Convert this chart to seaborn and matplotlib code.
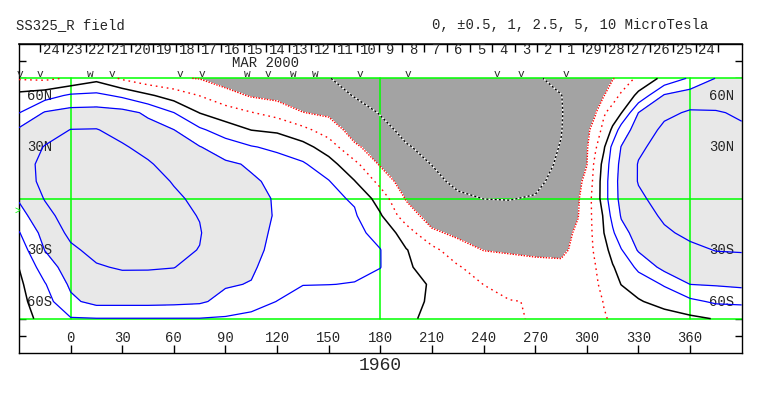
import numpy as np
import matplotlib
matplotlib.use("Agg")
import matplotlib.pyplot as plt
import seaborn as sns

# --- grid of the map (degrees) ---
lons = [-30, -15, 0, 15, 30, 45, 60, 75, 90, 105, 120, 135, 150, 165, 180,
        195, 210, 225, 240, 255, 270, 285, 295, 300, 305, 310, 315, 320,
        330, 345, 360, 375, 390]
lats = [70, 60, 50, 40, 30, 20, 10, 0, -10, -20, -30, -40, -50, -60, -70]

# --- radial field (microtesla), one list per latitude ---
b_n70 = [0.45, 0.4, 0.55, 0.85, 0.425, 0.15, 0.05, -0.02, -0.25, -0.33, -0.4, -0.45, -0.48, -0.9, -1.1,
         -1.2, -1.3, -1.3, -1.3, -1.3, -0.6, -0.385, -0.265, -0.205, -0.15, -0.09, -0.03, 0.13,
         0.63, 1.39, 2.83, 5.15, 6.5]
b_n60 = [1.43, 1.86, 2.9, 3.1, 2.23, 1.24, 0.77, 0.49, 0.2, -0.05, -0.15, -0.3, -0.3, -0.55, -0.8,
         -1.1, -1.25, -1.3, -1.3, -1.3, -0.75, -0.52, -0.3, -0.205, -0.11, -0.01, 0.265, 0.59,
         1.375, 5.5, 7.5, 8.0, 7.75]
b_n50 = [2.45, 5.4, 6.75, 6.9, 6.5, 4.625, 2.52, 0.985, 0.72, 0.52, 0.32, 0.01, -0.09, -0.3, -0.55,
         -0.9, -1.1, -1.2, -1.25, -1.25, -0.85, -0.55, -0.285, -0.16, -0.035, 0.44, 0.725, 0.975,
         5.02, 9.0, 10.5, 10.3, 9.5]
b_n40 = [5.75, 7.8, 10.1, 10.2, 8.45, 6.6, 5.06, 2.9, 1.77, 0.99, 0.91, 0.63, 0.26, -0.2, -0.38,
         -0.7, -0.9, -1.05, -1.15, -1.15, -0.85, -0.53, -0.245, -0.1, 0.19, 0.68, 1.255, 3.75,
         7.15, 11.0, 12.0, 12.0, 10.5]
b_n30 = [7.0, 10.25, 12.0, 12.0, 10.5, 8.6, 6.6, 5.2, 3.75, 2.67, 2.18, 1.52, 0.76, 0.075, -0.22,
         -0.47, -0.7, -0.85, -1.0, -1.0, -0.8, -0.485, -0.195, -0.05, 0.435, 0.95, 3.2, 5.15,
         9.2, 11.75, 12.75, 12.75, 12.0]
b_n20 = [7.5, 11.5, 13.0, 13.25, 12.0, 10.5, 8.15, 6.5, 5.75, 4.75, 3.6, 2.8, 1.58, 0.63, -0.06,
         -0.33, -0.52, -0.7, -0.85, -0.85, -0.85, -0.43, -0.155, -0.015, 0.64, 1.51, 3.8, 6.1,
         10.25, 12.25, 13.25, 13.25, 12.5]
b_n10 = [7.0, 11.5, 13.5, 14.0, 13.0, 11.75, 9.7, 7.75, 6.25, 5.5, 4.6, 3.4, 2.63, 1.06, 0.35,
         -0.3, -0.38, -0.7, -0.68, -0.68, -0.7, -0.35, -0.1, 0.125, 0.7, 1.765, 4.125, 6.3,
         10.25, 12.25, 13.5, 13.5, 12.75]
b_eq = [5.5, 10.25, 13.0, 14.0, 13.25, 12.25, 10.75, 9.0, 6.75, 5.75, 4.88, 3.6, 3.0, 2.35, 0.77,
        -0.04, -0.24, -0.42, -0.51, -0.53, -0.47, -0.21, -0.04, 0.26, 0.725, 1.765, 4.125, 6.05,
        9.2, 11.75, 13.0, 13.25, 12.5]
b_s10 = [4.1, 8.5, 12.25, 13.5, 13.0, 12.25, 11.0, 9.85, 7.0, 6.0, 4.88, 3.6, 3.1, 2.75, 1.16,
         0.225, -0.2, -0.25, -0.34, -0.36, -0.34, -0.125, -0.01, 0.315, 0.655, 1.195, 3.325, 5.35,
         7.8, 10.75, 12.25, 12.5, 12.0]
b_s20 = [2.41, 6.8, 11.0, 12.5, 12.5, 11.75, 11.0, 10.25, 7.0, 6.5, 4.6, 3.5, 3.1, 3.0, 2.125,
         0.75, 0.075, -0.09, -0.17, -0.2, -0.2, -0.125, 0.06, 0.325, 0.615, 1.01, 2.245, 4.325,
         6.55, 9.3, 11.0, 11.5, 11.25]
b_s30 = [1.71, 5.1, 9.2, 11.25, 11.5, 11.25, 10.75, 9.9, 6.75, 6.5, 4.25, 3.25, 3.0, 3.0, 2.55,
         1.07, 0.65, 0.18, -0.01, -0.04, -0.07, -0.075, 0.1, 0.345, 0.56, 0.855, 1.465, 2.41,
         5.5, 7.1, 9.0, 10.15, 10.4]
b_s40 = [1.02, 3.7, 7.5, 9.6, 10.4, 10.35, 10.1, 8.5, 6.25, 5.75, 3.75, 2.9, 2.8, 2.8, 2.55,
         1.22, 0.8, 0.55, 0.24, 0.14, 0.1, 0.075, 0.275, 0.385, 0.49, 0.735, 0.965, 1.48,
         3.05, 6.5, 7.5, 8.0, 7.75]
b_s50 = [0.9, 2.4, 5.8, 7.6, 8.2, 8.3, 7.95, 7.0, 5.5, 4.875, 3.25, 2.55, 2.52, 2.47, 2.05,
         1.22, 0.98, 0.7, 0.495, 0.33, 0.28, 0.175, 0.3, 0.375, 0.45, 0.6, 0.81, 1.03,
         1.675, 2.725, 5.02, 5.4, 6.0]
b_s60 = [0.85, 1.9, 4.5, 6.5, 6.5, 6.5, 6.25, 5.75, 4.2, 3.25, 2.48, 2.05, 1.98, 1.9, 1.45,
         1.18, 0.975, 0.75, 0.65, 0.52, 0.475, 0.25, 0.35, 0.4, 0.44, 0.51, 0.62, 0.735,
         0.955, 1.54, 2.17, 2.875, 3.0]
b_s70 = [0.8, 1.45, 2.4, 2.45, 2.45, 2.45, 2.45, 2.45, 2.35, 2.2, 2.05, 1.6, 1.45, 1.22, 1.03,
         1.12, 0.95, 0.72, 0.68, 0.58, 0.45, 0.3, 0.375, 0.41, 0.445, 0.485, 0.525, 0.565,
         0.65, 0.775, 0.9, 1.075, 1.3]

contour_levels = [-0.5, 0, 0.5, 1, 2.5, 5, 10]

# dates along the top (day of month), 30 days of the pass sequence
day_labels = ['24', '23', '22', '21', '20', '19', '18', '17', '16', '15', '14', '13',
              '12', '11', '10', '9', '8', '7', '6', '5', '4', '3', '2', '1',
              '29', '28', '27', '26', '25', '24']
day0_lon = -17.6
day_step = 13.13

# pass markers at the top
pass_lons = [-29.2, -17.6, 11.5, 24.2, 63.8, 76.6, 102.7, 114.9, 129.5, 142.3,
             168.4, 196.3, 248.0, 261.5, 287.6]
pass_marks = ['v', 'v', 'w', 'v', 'v', 'v', 'w', 'v', 'w', 'w', 'v', 'v', 'v', 'v', 'v']

grid_lons = [0, 180, 360]
grid_lats = [-70, 0, 70]
xtick_lons = list(range(0, 361, 30))
lat_labels = {60: '60N', 30: '30N', -30: '30S', -60: '60S'}

sns.set_theme(style="white")
plt.rcParams['font.family'] = ['Liberation Mono', 'DejaVu Sans Mono']

field = np.array([b_n70, b_n60, b_n50, b_n40, b_n30, b_n20, b_n10, b_eq,
                  b_s10, b_s20, b_s30, b_s40, b_s50, b_s60, b_s70])
# contour on a level-index scale so the uneven level spacing interpolates evenly
scale_ut = [-1.5, -0.5, 0, 0.5, 1, 2.5, 5, 10, 15]
idx = np.interp(field, scale_ut, np.arange(-1, 8))
lvl = np.interp(contour_levels, scale_ut, np.arange(-1, 8))
X, Y = np.meshgrid(lons, lats)

fig = plt.figure(figsize=(7.63, 3.96), dpi=100)
ax = fig.add_axes([19 / 763, 43 / 396, 722.7 / 763, 309 / 396])
ax.set_xlim(-30, 390)
ax.set_ylim(-90, 90)

ax.contourf(X, Y, idx, levels=[-2, lvl[1], lvl[5], 8],
            colors=['#a3a3a3', 'white', '#e8e8e8'], zorder=1)

green = '#00ff00'
for g in grid_lons:
    ax.plot([g, g], [grid_lats[0], grid_lats[-1]], color=green, lw=1.1, zorder=2)
for g in grid_lats:
    ax.axhline(g, color=green, lw=1.1, zorder=2)

# -0.5 : black/white dashes
ax.contour(X, Y, idx, levels=[lvl[0]], colors='white', linewidths=1.0, zorder=3)
ax.contour(X, Y, idx, levels=[lvl[0]], colors='black', linewidths=1.0,
           linestyles=[(0, (1.5, 1.5))], zorder=4)
# 0 : dense red dots, 0.5 : sparse red dots
ax.contour(X, Y, idx, levels=[lvl[1]], colors='red', linewidths=1.0,
           linestyles=[(0, (1, 1))], zorder=4)
ax.contour(X, Y, idx, levels=[lvl[2]], colors='red', linewidths=1.0,
           linestyles=[(0, (1.2, 2.8))], zorder=4)
# 1 : black, 2.5 / 5 / 10 : blue
ax.contour(X, Y, idx, levels=[lvl[3]], colors='black', linewidths=1.1, zorder=4)
ax.contour(X, Y, idx, levels=lvl[4:], colors='#0000ff', linewidths=0.9, zorder=4)

# axes, ticks
for s in ax.spines.values():
    s.set_color('black')
    s.set_linewidth(1.0)
ax.set_xticks(xtick_lons)
ax.set_yticks(list(range(-80, 81, 10)))
ax.tick_params(axis='x', direction='in', length=5.8, width=1, color='black',
               bottom=True, top=False, labelbottom=False)
ax.tick_params(axis='y', direction='in', length=5, width=1, color='black',
               left=True, right=True, labelleft=False, labelright=False)
for lon in xtick_lons:
    ax.text(lon, -81.2, str(lon), ha='center', va='center', fontsize=10)
for lat, lab in lat_labels.items():
    ax.text(-25.5, lat, lab, ha='left', va='center', fontsize=10)
    ax.text(385.5, lat, lab, ha='right', va='center', fontsize=10)

day_ticks = day0_lon + day_step * np.arange(len(day_labels) + 1)
top = ax.secondary_xaxis('top')
top.set_xticks(day_ticks)
top.tick_params(axis='x', direction='in', length=5.8, width=1, color='black', labeltop=False)
for i, lab in enumerate(day_labels):
    ax.text((day_ticks[i] + day_ticks[i + 1]) / 2, 86.4, lab, ha='center', va='center', fontsize=10)
ax.text(93.8, 79.1, 'MAR 2000', ha='left', va='center', fontsize=10)
for lon, m in zip(pass_lons, pass_marks):
    ax.text(lon, 72.8, m, ha='center', va='center', fontsize=8)
ax.text(-31, -7, '>', color=green, ha='center', va='center', fontsize=7, clip_on=False)

fig.text(16 / 763, 1 - 25 / 396, 'SS325_R field', ha='left', va='center', fontsize=10)
fig.text(431.7 / 763, 1 - 25 / 396, '0, \u00b10.5, 1, 2.5, 5, 10 MicroTesla',
         ha='left', va='center', fontsize=10)
fig.text(380 / 763, 1 - 365 / 396, '1960', ha='center', va='center', fontsize=13)

fig.savefig('out.png', dpi=100)
